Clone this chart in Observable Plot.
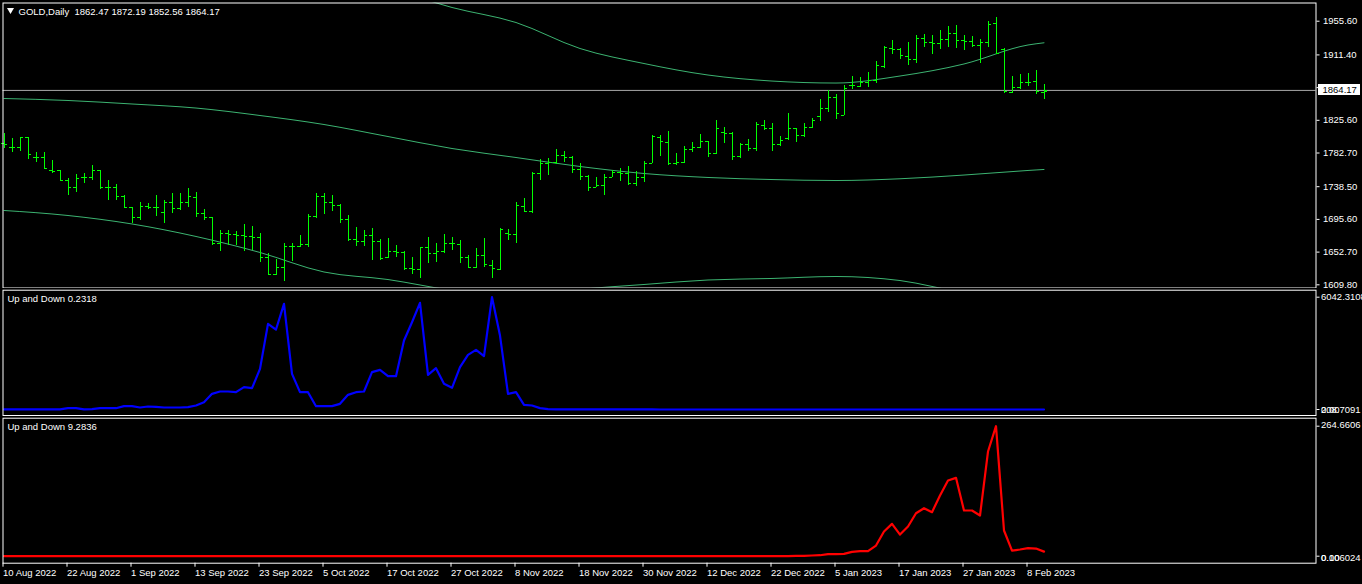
<!DOCTYPE html>
<html><head><meta charset="utf-8">
<script src="https://cdn.jsdelivr.net/npm/d3@7"></script>
<script src="https://cdn.jsdelivr.net/npm/@observablehq/plot@0.6"></script>
<style>
body{margin:0;background:#000;}
#wrap{position:relative;width:1362px;height:584px;background:#000;overflow:hidden;}
#wrap svg{position:absolute;left:0;max-width:none;}
#pricebox{position:absolute;left:1317.5px;width:42px;height:11px;background:#fff;color:#000;font:9.5px "Liberation Sans",sans-serif;line-height:11px;padding-left:5px;box-sizing:border-box;}
</style></head><body><div id="wrap"></div>
<script>
const FONT = '"Liberation Sans",sans-serif';
const symbolTitle = "GOLD,Daily";
const lastOHLC = "1862.47 1872.19 1852.56 1864.17";
const currentPrice = 1864.17;

const opens = [1794.7,1790.3,1790.3,1803.5,1777.2,1777.2,1759.7,1759.7,1746.6,1737.9,1750.1,1751.0,1759.7,1737.0,1737.9,1725.6,1710.8,1698.5,1712.5,1710.8,1705.1,1718.2,1709.4,1718.2,1724.7,1703.8,1698.5,1663.5,1676.6,1675.8,1674.5,1673.1,1671.4,1646.0,1623.3,1632.9,1660.0,1660.0,1662.6,1699.4,1725.6,1718.2,1713.8,1695.0,1668.8,1667.0,1674.5,1667.0,1645.2,1653.9,1652.6,1630.7,1629.4,1658.3,1650.4,1653.9,1663.5,1662.6,1645.2,1632.9,1648.2,1635.1,1629.4,1676.6,1675.8,1712.5,1706.4,1756.2,1768.5,1770.7,1779.4,1777.2,1760.6,1751.9,1737.9,1740.1,1751.0,1757.5,1756.2,1742.2,1751.0,1768.5,1803.5,1796.9,1769.4,1770.7,1786.8,1790.3,1797.8,1781.6,1810.0,1808.7,1778.1,1793.8,1788.2,1818.8,1814.4,1793.8,1801.3,1814.4,1805.6,1816.6,1830.6,1840.6,1855.1,1831.9,1871.2,1869.9,1875.6,1877.8,1896.2,1919.3,1918.0,1909.3,1904.9,1932.5,1928.1,1926.8,1931.2,1939.0,1930.3,1929.4,1923.7,1928.1,1952.1,1918.0,1862.5,1868.2,1875.6,1876.9,1862.47];
const highs = [1808.7,1801.3,1803.5,1803.5,1783.8,1783.8,1772.9,1759.7,1748.8,1754.5,1756.2,1766.3,1759.7,1746.6,1741.4,1726.9,1711.6,1718.2,1716.0,1726.9,1720.4,1729.1,1730.0,1735.7,1731.3,1708.1,1698.5,1681.0,1681.0,1680.1,1688.9,1686.3,1676.6,1650.4,1642.5,1663.5,1664.4,1674.5,1702.0,1730.0,1729.1,1726.9,1715.1,1700.7,1684.5,1681.0,1683.2,1668.8,1670.1,1661.3,1653.9,1646.0,1659.1,1672.3,1663.5,1675.3,1671.4,1667.9,1648.2,1657.0,1670.1,1641.7,1683.2,1681.9,1718.2,1722.6,1757.5,1773.7,1775.0,1786.8,1785.1,1778.0,1768.5,1753.2,1751.0,1754.5,1759.7,1761.9,1765.0,1758.9,1771.1,1805.6,1805.6,1810.9,1781.6,1791.2,1796.9,1807.0,1798.2,1825.3,1815.7,1809.1,1795.6,1800.0,1823.1,1825.3,1820.9,1804.3,1834.1,1815.3,1820.9,1827.5,1852.4,1864.7,1859.4,1871.2,1883.1,1881.3,1888.7,1902.7,1922.4,1930.3,1920.2,1928.1,1936.8,1938.2,1936.8,1943.4,1948.6,1950.0,1936.8,1935.5,1931.2,1955.2,1960.9,1919.3,1883.1,1885.7,1887.4,1890.9,1872.19];
const lows = [1788.2,1783.8,1785.1,1773.7,1770.7,1760.6,1755.4,1745.7,1726.9,1731.3,1743.1,1746.6,1734.4,1720.4,1720.4,1709.4,1689.8,1694.1,1708.1,1699.4,1690.6,1703.8,1707.3,1711.6,1697.6,1694.1,1661.3,1653.9,1661.3,1661.3,1653.9,1654.8,1639.5,1621.5,1622.0,1614.5,1640.8,1659.1,1659.1,1696.3,1702.0,1706.4,1690.6,1667.0,1660.0,1660.0,1641.7,1641.7,1643.8,1646.0,1628.5,1623.3,1617.6,1638.2,1639.5,1650.4,1654.8,1638.2,1632.9,1630.7,1632.9,1617.6,1628.5,1667.9,1664.4,1705.1,1703.8,1746.6,1753.2,1767.6,1770.7,1755.4,1746.6,1732.6,1737.0,1726.9,1750.1,1745.7,1740.1,1739.2,1744.4,1768.5,1778.1,1765.9,1766.7,1768.5,1783.8,1788.2,1777.2,1780.7,1795.6,1772.9,1775.0,1785.1,1785.1,1812.2,1784.7,1791.2,1799.1,1796.9,1803.5,1814.4,1824.4,1836.3,1826.2,1831.9,1865.6,1868.2,1868.2,1874.3,1893.1,1911.9,1904.9,1897.5,1900.5,1921.5,1911.5,1918.0,1920.7,1919.3,1917.2,1921.5,1900.5,1921.5,1911.9,1861.2,1860.3,1865.6,1869.9,1859.0,1852.56];
const closes = [1793.8,1790.3,1802.6,1780.7,1777.2,1761.9,1758.9,1746.6,1737.0,1748.8,1751.0,1759.7,1737.0,1737.9,1725.6,1710.8,1698.5,1712.5,1710.8,1710.8,1718.2,1709.4,1718.2,1725.6,1703.8,1698.5,1663.5,1676.6,1675.8,1674.5,1673.1,1671.4,1646.0,1623.3,1632.9,1660.0,1660.0,1662.6,1699.4,1725.6,1718.2,1713.8,1695.0,1668.8,1667.0,1674.5,1667.0,1643.8,1653.9,1652.6,1630.7,1629.4,1658.3,1650.4,1653.9,1664.4,1663.5,1645.2,1632.9,1648.2,1636.4,1630.7,1681.9,1675.8,1713.8,1706.4,1756.2,1768.5,1770.7,1779.4,1777.2,1760.6,1751.9,1737.9,1740.1,1751.0,1757.5,1756.2,1742.2,1751.0,1768.5,1804.3,1798.2,1769.4,1770.7,1786.8,1790.3,1797.8,1781.6,1814.4,1808.7,1778.1,1793.8,1788.2,1820.1,1814.4,1793.8,1799.1,1815.3,1805.6,1816.6,1825.3,1840.6,1855.1,1834.1,1866.9,1871.2,1875.6,1877.8,1897.5,1920.7,1918.0,1910.6,1904.9,1932.5,1928.1,1926.8,1931.2,1939.0,1930.3,1929.4,1923.7,1928.1,1951.3,1913.7,1863.8,1868.2,1875.6,1875.6,1863.8,1864.17];

const dateLabels = ["10 Aug 2022","22 Aug 2022","1 Sep 2022","13 Sep 2022","23 Sep 2022","5 Oct 2022","17 Oct 2022","27 Oct 2022","8 Nov 2022","18 Nov 2022","30 Nov 2022","12 Dec 2022","22 Dec 2022","5 Jan 2023","17 Jan 2023","27 Jan 2023","8 Feb 2023"];
const dateTickIdx = [0,8,16,24,32,40,48,56,64,72,80,88,96,104,112,120,128];
const priceTicks = [1955.60,1911.40,1868.50,1825.60,1782.70,1738.50,1695.60,1652.70,1609.80];

const bandIdx = [0,8,16,24,32,40,48,56,64,72,80,88,96,104,112,120,128,130];
const upperBand = [2001.1,2002.4,2004.4,2010.3,2011.6,2013.6,1998.5,1973.6,1953.9,1919.8,1900.1,1885.0,1877.1,1874.5,1883.7,1899.5,1924.4,1927.3];
const middleBand = [1854.2,1851.6,1847.0,1841.7,1831.9,1820.1,1804.3,1788.6,1776.8,1765.0,1755.8,1750.6,1747.9,1746.6,1748.9,1753.8,1759.8,1761.1];
const lowerBand = [1707.3,1700.7,1689.6,1673.2,1652.2,1626.6,1616.7,1602.3,1591.8,1603.6,1610.2,1616.1,1618.1,1620.7,1615.4,1599.7,1593.1,1591.8];

const upDown1 = [4,3,4,3,3,4,3,4,72,70,5,18,72,72,70,179,179,108,161,143,108,108,108,125,215,394,843,968,968,932,1201,1148,2187,4608,4303,5684,1918,932,932,179,179,179,305,789,932,968,2008,2134,1793,1793,3712,4698,5738,1865,2223,1381,1165,2277,2941,3209,2869,6042.3108,3980,843,932,251,215,72,18,9,6,5,4,3,3,2.5,2.2,2,1.8,1.6,1.5,1.4,1.3,1.2,1.1,1,1,0.9,0.9,0.8,0.8,0.8,0.7,0.7,0.7,0.6,0.6,0.6,0.6,0.5,0.5,0.5,0.5,0.5,0.4,0.4,0.4,0.4,0.4,0.4,0.3,0.3,0.3,0.3,0.3,0.3,0.3,0.3,0.3,0.3,0.3,0.3,0.3,0.3,0.3,0.3,0.2,0.2,0.2,0.2,0.2318];
const upDown1Top = "6042.3108", upDown1Bottom = ["0.00","208.7091"];
const upDown2 = [0.1,0.1,0.1,0.1,0.1,0.1,0.1,0.1,0.1,0.1,0.1,0.1,0.1,0.1,0.1,0.1,0.1,0.1,0.1,0.1,0.1,0.1,0.1,0.1,0.1,0.1,0.1,0.1,0.1,0.1,0.1,0.1,0.1,0.1,0.1,0.1,0.1,0.1,0.1,0.1,0.1,0.1,0.1,0.1,0.1,0.1,0.1,0.1,0.1,0.1,0.1,0.1,0.1,0.1,0.1,0.1,0.1,0.1,0.1,0.1,0.1,0.1,0.1,0.1,0.1,0.1,0.1,0.1,0.1,0.1,0.1,0.1,0.1,0.1,0.1,0.1,0.1,0.1,0.1,0.1,0.1,0.1,0.1,0.1,0.1,0.1,0.2,0.2,0.2,0.2,0.2,0.2,0.2,0.2,0.2,0.2,0.2,0.2,0.1,0.7,0.7,1.4,2.0,4.1,4.1,4.8,8.8,10.2,10.2,21.7,50.2,65.8,44.1,60.4,87.5,97.7,89.6,123.5,154.0,159.5,93.0,93.0,82.8,213.1,264.6606,52.3,11.5,13.6,16.3,15.6,9.2836];
const upDown2Top = "264.6606", upDown2Bottom = ["0.00","0.106024"];

const bars = opens.map((o,i)=>({i, o, h:highs[i], l:lows[i], c:closes[i]}));
const bands = bandIdx.map((i,k)=>({i, u:upperBand[k], m:middleBand[k], lo:lowerBand[k]}));
const W = 1362, FR = 1315.5, ML = 2.5, MR = W - FR;
const xCfg = {type:"linear", domain:[-0.125, 164.0], range:[ML, FR], axis:null};
const baseStyle = {background:"#000", color:"#fff", fontFamily:FONT, fontSize:"9.5px"};
const BAR = "#00ff00", BAND = "#3cb371";
const wrap = document.getElementById("wrap");

// Main price panel
const p1 = Plot.plot({
  width:W, height:290, marginLeft:ML, marginRight:MR, marginTop:2.5, marginBottom:2.5,
  style: baseStyle,
  x: xCfg,
  y: {domain:[1605.6,1979.5], range:[287.5,2.5], axis:null},
  marks: [
    Plot.line(bands, {x:"i", y:"u", stroke:BAND, strokeWidth:1, curve:"monotone-x", clip:true}),
    Plot.line(bands, {x:"i", y:"m", stroke:BAND, strokeWidth:1, curve:"monotone-x", clip:true}),
    Plot.line(bands, {x:"i", y:"lo", stroke:BAND, strokeWidth:1, curve:"monotone-x", clip:true}),
    Plot.ruleY([currentPrice], {stroke:"#a8a8a8", strokeWidth:1, dy:-0.5}),
    Plot.ruleX(bars, {x:"i", y1:"l", y2:"h", stroke:BAR, strokeWidth:1, shapeRendering:"crispEdges"}),
    Plot.link(bars, {x1:d=>d.i-0.4, x2:"i", y1:"o", y2:"o", stroke:BAR, strokeWidth:1.2, shapeRendering:"crispEdges"}),
    Plot.link(bars, {x1:"i", x2:d=>d.i+0.4, y1:"c", y2:"c", stroke:BAR, strokeWidth:1.2, shapeRendering:"crispEdges"}),
    Plot.frame({stroke:"#fff", strokeWidth:1}),
    Plot.axisY({anchor:"right", label:null, ticks:priceTicks, tickFormat:d=>d.toFixed(2), tickSize:3, tickPadding:4, stroke:"#fff", fill:"#fff"}),
    Plot.text([symbolTitle + "  " + lastOHLC], {frameAnchor:"top-left", dx:15.5, dy:8.5, lineAnchor:"middle", textAnchor:"start", fill:"#fff"}),
    Plot.dot([0], {frameAnchor:"top-left", dx:7.5, dy:7, symbol:"triangle", r:2.6, rotate:180, fill:"#fff", stroke:null})
  ]
});
p1.style.top = "0px";
wrap.appendChild(p1);
{
  const yy = p1.scale("y").apply(currentPrice);
  const box = document.createElement("div");
  box.id = "pricebox";
  box.style.top = (yy - 6) + "px";
  box.textContent = currentPrice.toFixed(2);
  wrap.appendChild(box);
}

// Indicator panel 1
const d1 = upDown1.map((v,i)=>({i, v}));
const p2 = Plot.plot({
  width:W, height:128, marginLeft:ML, marginRight:MR, marginTop:1.7, marginBottom:1,
  style: baseStyle,
  x: xCfg,
  y: {domain:[0, 6042.3108], range:[121, 8.7], axis:null},
  marks: [
    Plot.line(d1, {x:"i", y:"v", stroke:"#0000ff", strokeWidth:2.2}),
    Plot.frame({stroke:"#fff", strokeWidth:1}),
    Plot.axisY({anchor:"right", label:null, ticks:[6042.3108, 0], tickFormat:()=>"", tickSize:3, stroke:"#fff"}),
    Plot.text([upDown1Top], {y:()=>6042.3108, frameAnchor:"right", dx:5, textAnchor:"start", fill:"#fff"}),
    Plot.text(upDown1Bottom, {y:()=>0, frameAnchor:"right", dx:5, textAnchor:"start", fill:"#fff"}),
    Plot.text(["Up and Down " + upDown1[upDown1.length-1].toFixed(4)], {frameAnchor:"top-left", dx:4.5, dy:8.3, lineAnchor:"middle", textAnchor:"start", fill:"#fff"})
  ]
});
p2.style.top = "288px";
wrap.appendChild(p2);

// Indicator panel 2
const d2 = upDown2.map((v,i)=>({i, v}));
const p3 = Plot.plot({
  width:W, height:168, marginLeft:ML, marginRight:MR, marginTop:1.7, marginBottom:21.3,
  style: baseStyle,
  x: xCfg,
  y: {domain:[0, 264.6606], range:[139.7, 9.7], axis:null},
  marks: [
    Plot.line(d2, {x:"i", y:"v", stroke:"#ff0000", strokeWidth:2.2}),
    Plot.frame({stroke:"#fff", strokeWidth:1}),
    Plot.axisY({anchor:"right", label:null, ticks:[264.6606, 0], tickFormat:()=>"", tickSize:3, stroke:"#fff"}),
    Plot.text([upDown2Top], {y:()=>264.6606, frameAnchor:"right", dx:5, dy:-1, textAnchor:"start", fill:"#fff"}),
    Plot.text(upDown2Bottom, {y:()=>0, frameAnchor:"right", dx:5, dy:1.5, textAnchor:"start", fill:"#fff"}),
    Plot.text(["Up and Down " + upDown2[upDown2.length-1].toFixed(4)], {frameAnchor:"top-left", dx:4.5, dy:8.3, lineAnchor:"middle", textAnchor:"start", fill:"#fff"}),
    Plot.axisX({anchor:"bottom", label:null, ticks:dateTickIdx, tickFormat:d=>dateLabels[dateTickIdx.indexOf(d)], tickSize:4, tickPadding:2, textAnchor:"start", dx:-1, stroke:"#fff", fill:"#fff"})
  ]
});
p3.style.top = "416px";
wrap.appendChild(p3);
</script>
</body></html>
